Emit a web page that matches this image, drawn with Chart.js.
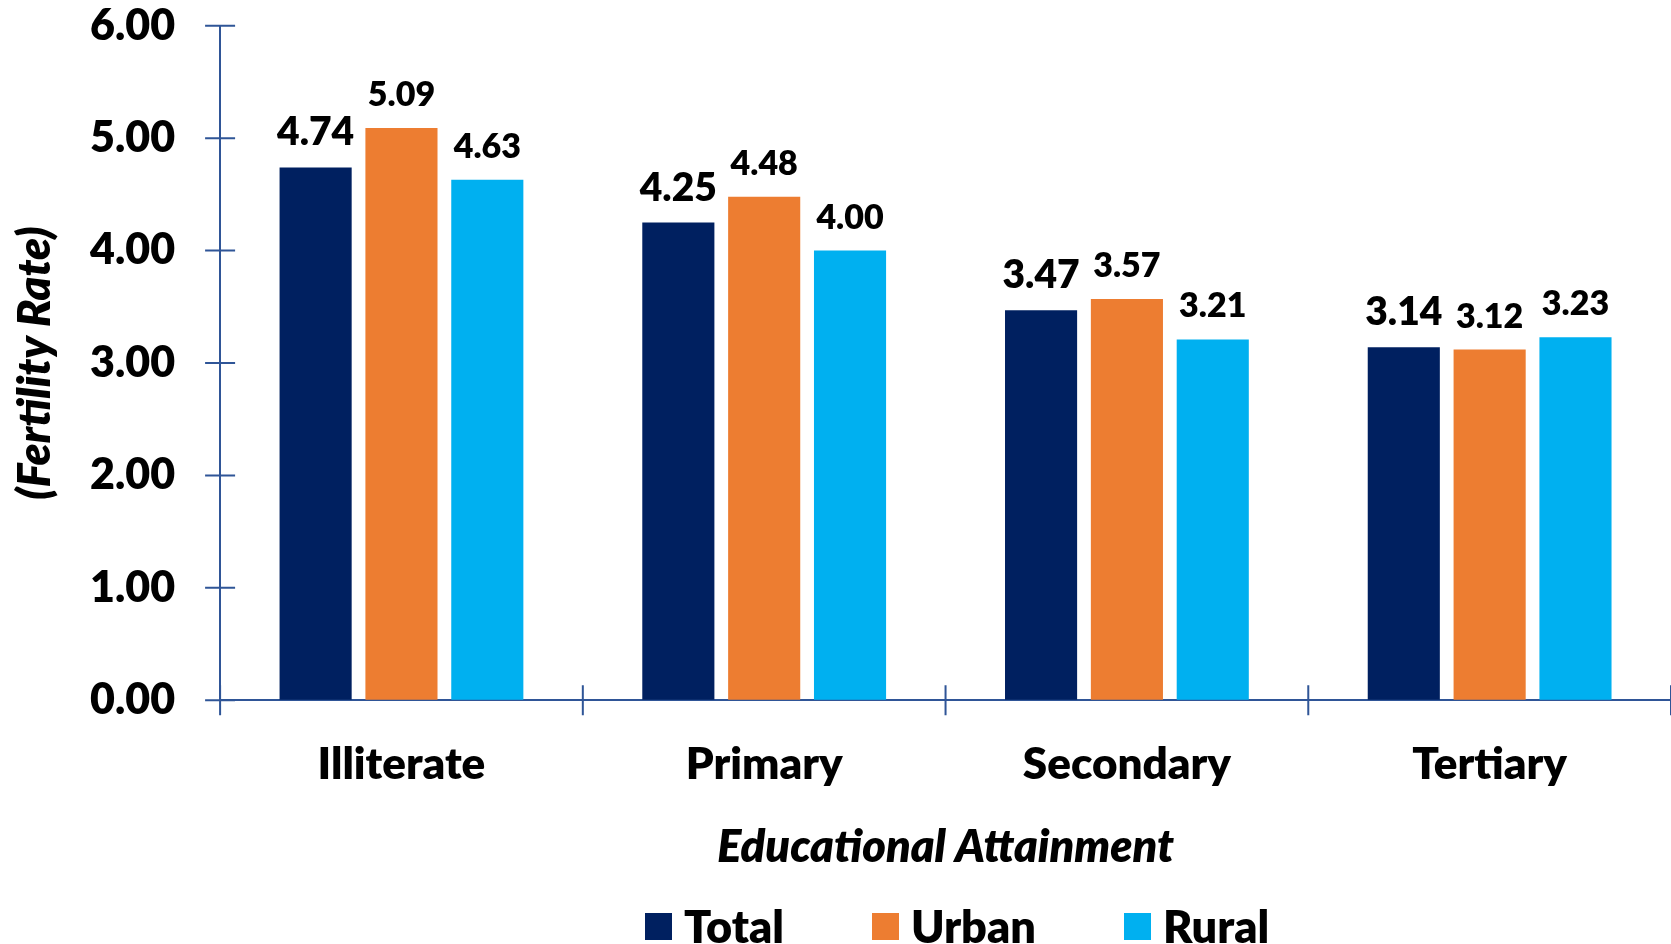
<!DOCTYPE html>
<html>
<head>
<meta charset="utf-8">
<script src="https://cdn.jsdelivr.net/npm/chart.js@4/dist/chart.umd.min.js"></script>
<style>
  body { margin: 0; background: #fff; }
  #wrap { position: relative; width: 1671px; height: 944px; }
  #legend {
    position: absolute; left: 645px; top: 903px;
    display: flex; align-items: center; gap: 88px;
    font: 800 45px Lato, sans-serif; line-height: 46px; color: #000;
  }
  #legend .item { display: flex; align-items: center; }
  #legend .box { width: 27px; height: 27px; margin-right: 12px; }
</style>
</head>
<body>
<div id="wrap">
  <canvas id="fertilityChart" width="1671" height="944"></canvas>
  <div id="legend"></div>
</div>
<script>
// Data
const categories = ['Illiterate', 'Primary', 'Secondary', 'Tertiary'];
const totalRates = [4.74, 4.25, 3.47, 3.14];
const urbanRates = [5.09, 4.48, 3.57, 3.12];
const ruralRates = [4.63, 4.00, 3.21, 3.23];
const seriesNames = ['Total', 'Urban', 'Rural'];
const seriesColors = ['#002060', '#ED7D31', '#00B0F0'];
const yTickValues = [0, 1, 2, 3, 4, 5, 6];

const axisColor = '#2F5597';
const markLen = 15; // half length of the crossing tick marks

document.addEventListener('DOMContentLoaded', () => {
    Chart.defaults.font.family = 'Lato, sans-serif';
    Chart.defaults.color = '#000';

    // value labels on top of the bars (Total labels are a bit bigger)
    const valueLabels = {
        id: 'valueLabels',
        afterDatasetsDraw(chart) {
            const ctx = chart.ctx;
            ctx.save();
            ctx.textAlign = 'center';
            ctx.textBaseline = 'alphabetic';
            ctx.fillStyle = '#000';
            chart.data.datasets.forEach((ds, di) => {
                ctx.font = '800 ' + (di === 0 ? 39 : 34) + 'px Lato, sans-serif';
                chart.getDatasetMeta(di).data.forEach((bar, i) => {
                    ctx.fillText(ds.data[i].toFixed(2), bar.x, bar.y - 22);
                });
            });
            ctx.restore();
        }
    };

    // tick marks that cross the axes (the library ticks are kept transparent
    // and only used for spacing the labels)
    const crossTicks = {
        id: 'crossTicks',
        afterDraw(chart) {
            const {ctx, chartArea, scales: {x, y}} = chart;
            ctx.save();
            ctx.strokeStyle = axisColor;
            ctx.lineWidth = 2;
            ctx.beginPath();
            y.ticks.forEach((t, i) => {
                const py = y.getPixelForTick(i);
                ctx.moveTo(chartArea.left - markLen, py);
                ctx.lineTo(chartArea.left + markLen, py);
            });
            const half = (x.getPixelForValue(1) - x.getPixelForValue(0)) / 2;
            for (let i = 0; i <= categories.length; i++) {
                const px = x.getPixelForValue(0) - half + i * half * 2;
                ctx.moveTo(px, chartArea.bottom + markLen);
                ctx.lineTo(px, chartArea.bottom - markLen);
            }
            ctx.stroke();
            ctx.restore();
        }
    };

    const rates = [totalRates, urbanRates, ruralRates];
    const chartData = {
        labels: categories,
        datasets: seriesNames.map((name, i) => ({
            label: name,
            data: rates[i],
            backgroundColor: seriesColors[i],
            categoryPercentage: 0.71,
            barPercentage: 0.84
        }))
    };

    const chart = new Chart(document.getElementById('fertilityChart'), {
        type: 'bar',
        data: chartData,
        options: {
            responsive: false,
            animation: false,
            layout: { padding: { top: 2, left: 8, right: 0, bottom: 70 } },
            plugins: {
                legend: { display: false },
                tooltip: { enabled: false }
            },
            scales: {
                x: {
                    grid: { drawOnChartArea: false, tickLength: 38, tickColor: 'rgba(0,0,0,0)' },
                    border: { color: axisColor, width: 2 },
                    ticks: { font: { size: 44, weight: 800 }, padding: 0 },
                    title: {
                        display: true,
                        text: 'Educational Attainment',
                        font: { size: 45, weight: 800, style: 'italic' },
                        padding: { top: 29, bottom: 0 }
                    }
                },
                y: {
                    min: 0,
                    max: 6,
                    afterBuildTicks: (scale) => {
                        scale.ticks = yTickValues.map(v => ({ value: v }));
                    },
                    grid: { drawOnChartArea: false, tickLength: 45, tickColor: 'rgba(0,0,0,0)' },
                    border: { color: axisColor, width: 2 },
                    ticks: {
                        font: { size: 43, weight: 800 },
                        padding: 0,
                        callback: (v) => Number(v).toFixed(2)
                    },
                    title: {
                        display: true,
                        text: '(Fertility Rate)',
                        font: { size: 45, weight: 800, style: 'italic' },
                        padding: { top: 0, bottom: 28 }
                    }
                }
            }
        },
        plugins: [valueLabels, crossTicks]
    });

    // legend built from the datasets
    const legend = document.getElementById('legend');
    chart.data.datasets.forEach(ds => {
        const item = document.createElement('div');
        item.className = 'item';
        const box = document.createElement('span');
        box.className = 'box';
        box.style.background = ds.backgroundColor;
        const label = document.createElement('span');
        label.textContent = ds.label;
        item.appendChild(box);
        item.appendChild(label);
        legend.appendChild(item);
    });
});
</script>
</body>
</html>
